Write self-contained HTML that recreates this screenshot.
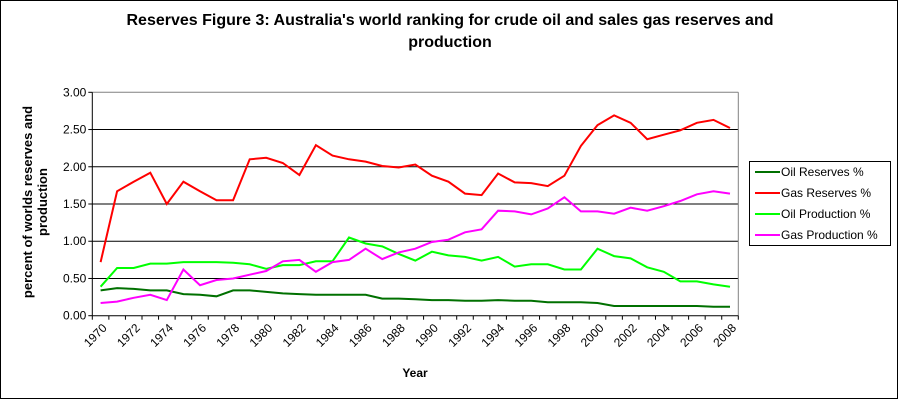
<!DOCTYPE html>
<html><head><style>
html,body{margin:0;padding:0;background:#fff}
svg{display:block;font-family:"Liberation Sans",Arial,sans-serif}
</style></head><body>
<svg id="c" width="900" height="400" xmlns="http://www.w3.org/2000/svg">
<rect x="0.5" y="0.5" width="897" height="398" fill="#fff" stroke="#000"/>
<text x="450" y="25" font-size="16" font-weight="bold" text-anchor="middle">Reserves Figure 3: Australia's world ranking for crude oil and sales gas reserves and</text>
<text x="450" y="47" font-size="16" font-weight="bold" text-anchor="middle">production</text>
<text transform="translate(32,202) rotate(-90)" font-size="13" font-weight="bold" text-anchor="middle">percent of worlds reserves and</text>
<text transform="translate(47,202) rotate(-90)" font-size="13" font-weight="bold" text-anchor="middle">production</text>
<text x="415" y="377" font-size="12" font-weight="bold" text-anchor="middle">Year</text>
<g id="g"></g>
<rect x="749.5" y="161.5" width="141" height="84" fill="#fff" stroke="#000"/>
<g font-size="12">
<line x1="755" y1="172" x2="780" y2="172" stroke="#007000" stroke-width="2"/><text x="781" y="176">Oil Reserves %</text>
<line x1="755" y1="193" x2="780" y2="193" stroke="#ff0000" stroke-width="2"/><text x="781" y="197">Gas Reserves %</text>
<line x1="755" y1="214" x2="780" y2="214" stroke="#00ff00" stroke-width="2"/><text x="781" y="218">Oil Production %</text>
<line x1="755" y1="235" x2="780" y2="235" stroke="#ff00ff" stroke-width="2"/><text x="781" y="239">Gas Production %</text>
</g>
</svg>
<script>
var L=92.3,R=738.3,T=92.3,B=315.7,n=39,w=(R-L)/n;
var s='';
for(var i=0;i<=6;i++){var y=B-(B-T)*i/6;
 if(i>0)s+='<line x1="'+L+'" y1="'+y+'" x2="'+R+'" y2="'+y+'" stroke="'+(i==6?'#808080':'#000')+'"/>';
 s+='<line x1="'+(L-4)+'" y1="'+y+'" x2="'+L+'" y2="'+y+'" stroke="#000"/>';
 s+='<text x="'+(L-6)+'" y="'+(y+4)+'" font-size="12" text-anchor="end">'+(i*0.5).toFixed(2)+'</text>';}
s+='<line x1="'+R+'" y1="'+T+'" x2="'+R+'" y2="'+B+'" stroke="#808080"/>';
s+='<line x1="'+L+'" y1="'+T+'" x2="'+L+'" y2="'+B+'" stroke="#000"/>';
s+='<line x1="'+L+'" y1="'+B+'" x2="'+R+'" y2="'+B+'" stroke="#000"/>';
for(var i=0;i<=n;i++){var x=L+w*i;s+='<line x1="'+x+'" y1="'+B+'" x2="'+x+'" y2="'+(B+4)+'" stroke="#000"/>';}
for(var i=0;i<n;i+=2){var x=L+w*(i+0.5)+7;s+='<text transform="translate('+x+','+(B+13)+') rotate(-45)" font-size="12" text-anchor="end">'+(1970+i)+'</text>';}
var d={
'#007000':[.34,.37,.36,.34,.34,.29,.28,.26,.34,.34,.32,.30,.29,.28,.28,.28,.28,.23,.23,.22,.21,.21,.20,.20,.21,.20,.20,.18,.18,.18,.17,.13,.13,.13,.13,.13,.13,.12,.12],
'#00ff00':[.39,.64,.64,.70,.70,.72,.72,.72,.71,.69,.63,.68,.68,.73,.73,1.05,.97,.93,.83,.74,.86,.81,.79,.74,.79,.66,.69,.69,.62,.62,.90,.80,.77,.65,.59,.46,.46,.42,.39],
'#ff00ff':[.17,.19,.24,.28,.21,.62,.41,.48,.50,.55,.60,.73,.75,.59,.72,.75,.90,.76,.85,.90,.99,1.02,1.12,1.16,1.41,1.40,1.36,1.44,1.59,1.40,1.40,1.37,1.45,1.41,1.47,1.54,1.63,1.67,1.64],
'#ff0000':[.72,1.67,1.80,1.92,1.50,1.80,1.67,1.55,1.55,2.10,2.12,2.05,1.89,2.29,2.15,2.10,2.07,2.01,1.99,2.03,1.88,1.80,1.64,1.62,1.91,1.79,1.78,1.74,1.88,2.28,2.56,2.69,2.59,2.37,2.43,2.49,2.59,2.63,2.52]};
var ord=['#007000','#00ff00','#ff00ff','#ff0000'];
ord.forEach(function(c){var p=d[c].map(function(v,i){return (L+w*(i+0.5)).toFixed(1)+','+(B-(B-T)*v/3).toFixed(1)}).join(' ');
s+='<polyline points="'+p+'" fill="none" stroke="'+c+'" stroke-width="2"/>';});
document.getElementById('g').innerHTML=s;
</script>
</body></html>
